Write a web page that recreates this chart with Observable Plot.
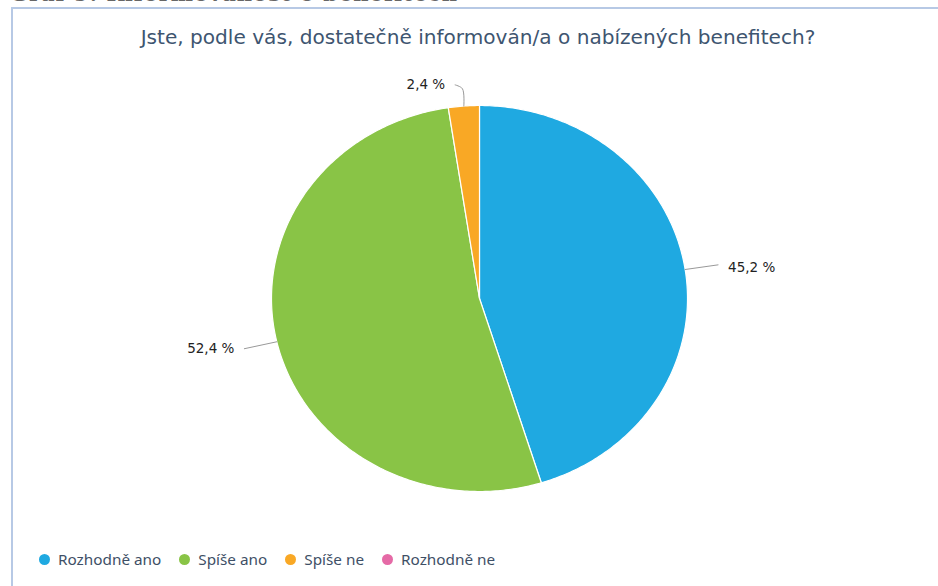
<!DOCTYPE html>
<html>
<head>
<meta charset="utf-8">
<script src="https://cdn.jsdelivr.net/npm/d3@7"></script>
<script src="https://cdn.jsdelivr.net/npm/@observablehq/plot@0.6"></script>
<style>
  html, body { margin: 0; padding: 0; background: #fff; }
  #wrap { position: relative; width: 938px; height: 586px; overflow: hidden; background: #fff; }
  #heading { position: absolute; left: 10px; top: -19px; font-family: "DejaVu Serif", serif; font-weight: bold; font-size: 21px; color: #666; white-space: nowrap; letter-spacing: 1px; }
  #box { position: absolute; left: 11px; top: 7px; width: 940px; height: 600px; border-top: 2px solid #b7c9e5; border-left: 2px solid #b7c9e5; box-sizing: border-box; background: #fff; }
  #title { position: absolute; left: 0; width: 956px; top: 25px; text-align: center; font-family: "DejaVu Sans", sans-serif; font-size: 20.1px; color: #3e5570; }
  #chart { position: absolute; left: 0; top: 0; }
  #legend { position: absolute; left: 39px; top: 549px; display: flex; gap: 18px; font-family: "Noto Sans", sans-serif; font-size: 15.3px; color: #3e4f66; }
  #legend .item { display: flex; align-items: center; }
  #legend .dot { width: 11px; height: 11px; border-radius: 50%; margin-right: 8px; }
</style>
</head>
<body>
<div id="wrap">
  <div id="box"></div>
  <div id="heading">Graf 9: Informovanost o benefitech</div>
  <div id="title">Jste, podle vás, dostatečně informován/a o nabízených benefitech?</div>
  <div id="chart"></div>
  <div id="legend"></div>
</div>
<script>
const categories = ["Rozhodně ano", "Spíše ano", "Spíše ne", "Rozhodně ne"];
const values = [45.2, 52.4, 2.4, 0];
const labels = ["45,2 %", "52,4 %", "2,4 %", ""];
const colors = ["#1fa9e1", "#89c446", "#f9a825", "#e56aa6"];

const pie = d3.pie().sort(null).value(d => d.value);
const arcs = pie(categories.map((c, i) => ({cat: c, value: values[i], label: labels[i]})));

// slice outlines in unit coordinates (angle 0 = top, clockwise)
const pt = (a, r) => ({x: r * Math.sin(a), y: r * Math.cos(a)});
const slicePts = [];
for (const a of arcs) {
  if (a.data.value <= 0) continue;
  slicePts.push({cat: a.data.cat, ...pt(0, 0)});
  const n = Math.max(4, Math.ceil((a.endAngle - a.startAngle) * 80));
  for (let k = 0; k <= n; k++) {
    const t = a.startAngle + (a.endAngle - a.startAngle) * k / n;
    slicePts.push({cat: a.data.cat, ...pt(t, 1)});
  }
}

// connectors and labels
const conn = [];
const labelPts = [];
for (const a of arcs) {
  if (a.data.value <= 0) continue;
  const m = (a.startAngle + a.endAngle) / 2;
  const right = Math.sin(m) >= 0;
  const small = a.data.value < 5;
  const p0 = pt(m, 1.0);
  const p1 = pt(m, small ? 1.09 : 1.16);
  conn.push({cat: a.data.cat, ...p0});
  conn.push({cat: a.data.cat, ...p1});
  if (small) conn.push({cat: a.data.cat, x: p1.x - 0.035, y: p1.y + 0.02});
  const end = small ? {x: p1.x - 0.035, y: p1.y + 0.02} : p1;
  labelPts.push({cat: a.data.cat, label: a.data.label, x: end.x, y: end.y, anchor: right ? "start" : "end"});
}

const cx = 479, cy = 298, rx = 208, ry = 193;
const chart = Plot.plot({
  width: 938,
  height: 586,
  margin: 0,
  x: {domain: [-1, 1], range: [cx - rx, cx + rx], axis: null},
  y: {domain: [-1, 1], range: [cy + ry, cy - ry], axis: null},
  color: {domain: categories, range: colors},
  style: {background: "transparent", overflow: "visible"},
  marks: [
    Plot.line(slicePts, {x: "x", y: "y", z: "cat", fill: "cat", stroke: "#ffffff", strokeWidth: 1.2, curve: "linear-closed", strokeLinejoin: "round"}),
    Plot.line(conn, {x: "x", y: "y", z: "cat", stroke: "#999999", strokeWidth: 1, curve: "catmull-rom"}),
    Plot.text(labelPts.filter(d => d.anchor === "start"), {x: "x", y: "y", text: "label", textAnchor: "start", dx: 10, dy: 3, fontSize: 13.5, fontFamily: "DejaVu Sans", fill: "#222"}),
    Plot.text(labelPts.filter(d => d.anchor === "end"), {x: "x", y: "y", text: "label", textAnchor: "end", dx: -10, dy: -0.5, fontSize: 13.5, fontFamily: "DejaVu Sans", fill: "#222"})
  ]
});
document.getElementById("chart").appendChild(chart);

const legend = document.getElementById("legend");
categories.forEach((c, i) => {
  const it = document.createElement("div");
  it.className = "item";
  it.innerHTML = `<span class="dot" style="background:${colors[i]}"></span><span>${c}</span>`;
  legend.appendChild(it);
});
</script>
</body>
</html>
